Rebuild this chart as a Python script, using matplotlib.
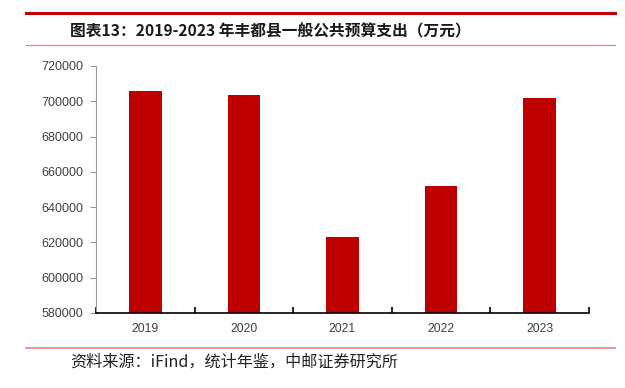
import matplotlib
matplotlib.use('Agg')
import matplotlib.pyplot as plt
import numpy as np

# data
years = ['2019', '2020', '2021', '2022', '2023']
spending = [705800, 703500, 623200, 651900, 702100]   # 万元
yticks = [580000, 600000, 620000, 640000, 660000, 680000, 700000, 720000]

title = '图表13：2019-2023 年丰都县一般公共预算支出（万元）'
source = '资料来源：iFind，统计年鉴，中邮证券研究所'

plt.rcParams['font.family'] = ['Liberation Sans', 'Noto Sans CJK SC', 'DejaVu Sans']

fig = plt.figure(figsize=(6.25, 3.88), dpi=100)
W, H = 625, 388

# frame lines of the report layout
fig.add_artist(plt.Line2D([26 / W, 615 / W], [1 - 13 / H, 1 - 13 / H], color='#C00000', lw=2.2))
fig.add_artist(plt.Line2D([26 / W, 615 / W], [1 - 45 / H, 1 - 45 / H], color='#E88080', lw=0.9))
fig.add_artist(plt.Line2D([26 / W, 615 / W], [1 - 348 / H, 1 - 348 / H], color='#E88080', lw=1.2))

fig.text(70 / W, 1 - 31 / H, title, fontsize=11.3, fontweight='bold',
         family=['Noto Sans CJK SC', 'DejaVu Sans'], va='center', ha='left', color='#1a1a1a')
fig.text(70 / W, 1 - 362 / H, source, fontsize=11.6,
         family=['Noto Sans CJK SC', 'DejaVu Sans'], va='center', ha='left', color='#222222')

ax = fig.add_axes([96 / W, 1 - 313 / H, (589 - 96) / W, (313 - 66) / H])
x = np.arange(len(years))
ax.bar(x, spending, width=0.33, color='#C00000', zorder=2)

ax.set_ylim(580000, 720000)
ax.set_yticks(yticks)
ax.set_yticklabels([str(v) for v in yticks])
ax.set_xlim(-0.5, len(years) - 0.5)
ax.set_xticks(x)
ax.set_xticklabels(years)
ax.set_xticks(np.arange(-0.5, len(years)), minor=True)

for s in ['top', 'right']:
    ax.spines[s].set_visible(False)
ax.spines['left'].set_color('#999999')
ax.spines['left'].set_linewidth(0.8)
ax.spines['bottom'].set_color('black')
ax.spines['bottom'].set_linewidth(1.2)

ax.tick_params(axis='y', direction='out', length=4, width=0.8, color='#999999',
               labelsize=9, labelcolor='#404040', pad=5)
ax.tick_params(axis='x', which='major', length=0, labelsize=8.8, labelcolor='#404040', pad=7)
ax.tick_params(axis='x', which='minor', direction='in', length=4, width=1.2, color='black')

fig.savefig('out.png', dpi=100)
